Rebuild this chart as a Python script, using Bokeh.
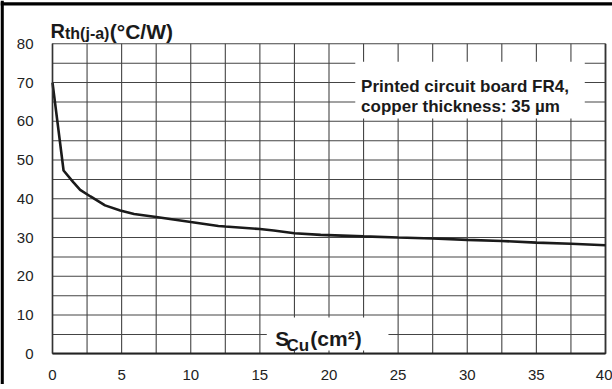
from bokeh.plotting import figure
from bokeh.models import Range1d, FixedTicker, LinearAxis
from bokeh.core.properties import value
from bokeh.embed import file_html
from bokeh.resources import INLINE

# Data
s_cu = [0, 0.8, 1.5, 2.0, 2.75, 3.8, 4.9, 5.9, 7.5, 10, 12, 12.5, 15, 16,
        17.5, 19.4, 22.5, 25, 27.5, 30, 32.5, 35, 37.5, 40]
rth = [70, 47.3, 44.3, 42.3, 40.6, 38.3, 37.0, 36.1, 35.3, 34.0, 33.0, 32.85,
       32.2, 31.8, 31.1, 30.7, 30.3, 30.0, 29.75, 29.4, 29.1, 28.7, 28.4, 28.0]

x_ticks = [0, 5, 10, 15, 20, 25, 30, 35, 40]
y_ticks = [0, 10, 20, 30, 40, 50, 60, 70, 80]
x_grid = [0, 2.5, 5, 7.5, 10, 12.5, 15, 17.5, 20, 22.5, 25, 27.5, 30, 32.5,
          35, 37.5, 40]
y_grid = [0, 5, 10, 15, 20, 25, 30, 35, 40, 45, 50, 55, 60, 65, 70, 75, 80]

FONT = "Liberation Sans"
W, H = 612, 384
# pixel geometry of the chart box inside the canvas
BOX_L, BOX_R, BOX_T, BOX_B = 52.0, 605.0, 43.3, 353.3
XMIN, XMAX, YMIN, YMAX = 0, 40, 0, 80
kx = (BOX_R - BOX_L) / (XMAX - XMIN)
ky = (BOX_B - BOX_T) / (YMAX - YMIN)
x0 = XMIN - BOX_L / kx
x1 = XMAX + (W - BOX_R) / kx
y0 = YMIN - (H - BOX_B) / ky
y1 = YMAX + BOX_T / ky

p = figure(width=W, height=H, frame_width=W, frame_height=H,
           min_border=0, x_range=Range1d(x0, x1), y_range=Range1d(y0, y1),
           x_axis_location=None, y_axis_location=None,
           output_backend="svg", toolbar_location=None,
           background_fill_color="white", border_fill_color="white")
p.outline_line_color = None
p.xgrid.visible = False
p.ygrid.visible = False

# grid (only inside the chart box)
p.segment(x0=x_grid, y0=[YMIN] * len(x_grid), x1=x_grid, y1=[YMAX] * len(x_grid),
          line_color="#444444", line_width=1.1)
p.segment(x0=[XMIN] * len(y_grid), y0=y_grid, x1=[XMAX] * len(y_grid), y1=y_grid,
          line_color="#444444", line_width=1.1)
# right edge of chart box
p.segment(x0=[XMAX], y0=[YMIN], x1=[XMAX], y1=[YMAX], line_color="#333333",
          line_width=1.8)

# white boxes behind the in-chart texts
p.quad(left=[21.9, 15.5], right=[38.5, 24.3], bottom=[60.7, 0.85],
       top=[75.4, 9.4], fill_color="white", line_color=None)

# axes placed at the chart box edges
xa = LinearAxis(fixed_location=YMIN, bounds=(XMIN, XMAX),
                ticker=FixedTicker(ticks=x_ticks))
ya = LinearAxis(fixed_location=XMIN, bounds=(YMIN, YMAX),
                ticker=FixedTicker(ticks=y_ticks))
for ax in (xa, ya):
    ax.major_tick_line_color = None
    ax.minor_tick_line_color = None
    ax.major_label_text_font = FONT
    ax.major_label_text_font_size = "15px"
    ax.major_label_text_color = "#222222"
    ax.major_label_standoff = 13
xa.major_label_standoff = 10
xa.axis_line_color = "#222222"
xa.axis_line_width = 2
ya.axis_line_color = "#333333"
ya.axis_line_width = 1.6
p.add_layout(xa, "below")
p.add_layout(ya, "left")

p.line(s_cu, rth, line_color="#1a1a1a", line_width=2.6)

# outer frame of the picture (left and top edges)
p.segment(x0=[x0 + 1.65 / kx], y0=[y0], x1=[x0 + 1.65 / kx], y1=[y1],
          line_color="black", line_width=3.3)
p.segment(x0=[x0], y0=[y1 - 3.3 / ky], x1=[x1], y1=[y1 - 3.3 / ky],
          line_color="black", line_width=3.3)

def lab(texts, xs, ys, size):
    p.text(x=xs, y=ys, text=texts, text_font=value(FONT),
           text_font_style=value("bold"), text_font_size=value(size),
           text_color="#1a1a1a", text_baseline=value("alphabetic"),
           text_align=value("left"))

# y-axis title above the chart box (positions from pixel offsets)
lab(["R"], [XMIN - 2 / kx], [YMAX + 12.6 / ky], "20px")
lab(["th(j-a)"], [XMIN + 12.5 / kx], [YMAX + 10.3 / ky], "16px")
lab(["(°C/W)"], [XMIN + 57.3 / kx], [YMAX + 12.6 / ky], "21px")

# board annotation
lab(["Printed circuit board FR4,", "copper thickness: 35 µm"],
    [22.32, 22.32], [69.06, 63.9], "17px")

# x-axis title
lab(["S", "(cm²)"], [16.12, 18.65], [4.03, 4.03], "21px")
lab(["Cu"], [16.92], [2.14], "17px")

open("out.html", "w").write(file_html(p, INLINE))
